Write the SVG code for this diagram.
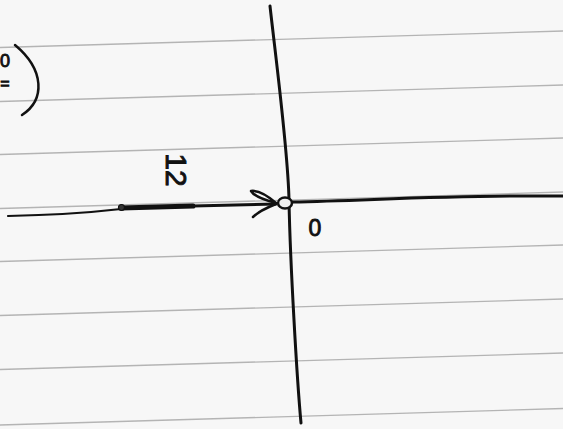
<svg xmlns="http://www.w3.org/2000/svg" width="563" height="429" viewBox="0 0 563 429">
<style>
.rule{stroke:#b4b4b4;stroke-width:1.3;fill:none}
.ink{stroke:#111;fill:none;stroke-linecap:round;stroke-linejoin:round}
.hand{font-family:"Liberation Sans",Arial,sans-serif;fill:#111;stroke:#111;stroke-width:0.9}
</style>
<rect width="563" height="429" fill="#f7f7f7"/>
<g id="ruled-lines">
<line class="rule" x1="0" y1="47.5" x2="563" y2="31"/>
<line class="rule" x1="0" y1="101.5" x2="563" y2="85"/>
<line class="rule" x1="0" y1="154.5" x2="563" y2="138"/>
<line class="rule" x1="0" y1="208.5" x2="563" y2="192"/>
<line class="rule" x1="0" y1="261.5" x2="563" y2="245"/>
<line class="rule" x1="0" y1="315.5" x2="563" y2="299"/>
<line class="rule" x1="0" y1="369.5" x2="563" y2="353"/>
<line class="rule" x1="0" y1="425" x2="563" y2="408.5"/>
</g>
<g id="connectors">
<path id="axis-vertical" class="ink" stroke-width="3" d="M270,6 C276,60 288,150 289,200 C290,260 297,380 301,423"/>
<path id="axis-right" class="ink" stroke-width="3" d="M292,202 C380,200 450,195 563,196"/>
<path id="ray-left-thin" class="ink" stroke-width="2.2" d="M8,216 C60,215 95,212 121,209"/>
<path id="ray-left-thick" class="ink" stroke-width="5" d="M121,208 L193,206"/>
<path id="ray-left-end" class="ink" stroke-width="3" d="M193,206 L276,204"/>
<path id="arrow-upper" class="ink" stroke-width="2.5" d="M276,203 C268,196 258,190 251,191 C254,196 264,200 276,203"/>
<path id="arrow-lower" class="ink" stroke-width="2.5" d="M276,204 C266,208 258,212 253,217"/>
<circle cx="121.5" cy="207.5" r="3" fill="#333" stroke="#111" stroke-width="1.2"/>
</g>
<g id="origin">
<ellipse cx="285" cy="203" rx="7" ry="5.5" fill="#eee" stroke="#111" stroke-width="2.5"/>
<text class="hand" x="315" y="228" font-size="23" text-anchor="middle" dominant-baseline="central">0</text>
</g>
<g id="label-12">
<text class="hand" x="0" y="0" font-size="30" text-anchor="middle" dominant-baseline="central" transform="translate(176,170) rotate(90)">12</text>
</g>
<g id="top-left-note">
<text class="hand" x="5" y="61" font-size="18" text-anchor="middle" dominant-baseline="central">0</text>
<text class="hand" x="5" y="83" font-size="16" text-anchor="middle" dominant-baseline="central">=</text>
<path class="ink" stroke-width="2.5" d="M15,45 C45,70 45,100 22,115"/>
</g>
</svg>
